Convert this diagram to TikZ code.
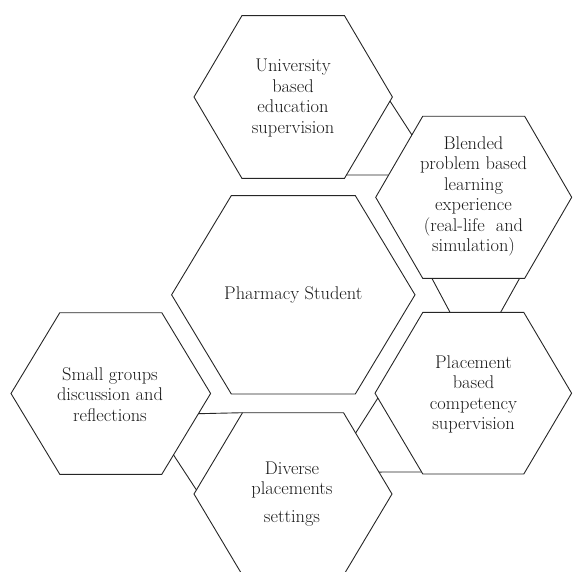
\documentclass[tikz,border=0pt]{standalone}
\usetikzlibrary{calc}
\tikzset{
  hexline/.style={draw=black!85, line width=0.9pt, line join=miter},
  conn/.style={draw=black!85, line width=0.9pt},
  hextext/.style={inner sep=0pt, align=center, font=\fontsize{18.4}{20.5}\selectfont, text=black!90},
}
\newcommand{\hexa}[6]{%
  \coordinate (#1-l) at ({#2-#4},#3);
  \coordinate (#1-tl) at ({#2-#5},{#3-#6});
  \coordinate (#1-tr) at ({#2+#5},{#3-#6});
  \coordinate (#1-r) at ({#2+#4},#3);
  \coordinate (#1-br) at ({#2+#5},{#3+#6});
  \coordinate (#1-bl) at ({#2-#5},{#3+#6});
  \draw[hexline] (#1-l) -- (#1-tl) -- (#1-tr) -- (#1-r) -- (#1-br) -- (#1-bl) -- cycle;
}
\begin{document}
\begin{tikzpicture}[x=1pt,y=-1pt]
\useasboundingbox (0,0) rectangle (572,572);
\hexa{u}{293.2}{97}{99.2}{51.3}{81.3}
\hexa{b}{473.7}{197.3}{98}{51}{81}
\hexa{p}{473.3}{393.2}{98.3}{50.5}{80.8}
\hexa{s}{110.8}{393.5}{99.8}{51}{80.8}
\hexa{d}{293}{494}{99}{50.5}{81.3}
\hexa{c}{293.3}{294.8}{121.7}{62}{99.2}

\node[hextext] (ut) at (293,98) {University\\based\\education\\supervision};
\node[hextext] (bt) at (473.5,196.5) {Blended\\problem based\\learning\\experience\\(real-life\ \ and\\simulation)};
\node[hextext] (pt) at (473.5,394.5) {Placement\\based\\competency\\supervision};
\node[hextext] (st) at (110,394.5) {Small groups\\discussion and\\reflections};
\node[hextext] (dt) at (292,494) {Diverse\\placements\\[7pt]settings};
\node[hextext] (ct) at (293.3,295) {Pharmacy Student};

\draw[conn] ($(u-r)!0.05!(u-br)$) -- ($(b-tl)!0.23!(b-l)$);
\draw[conn] ($(u-r)!0.959!(u-br)$) -- ($(b-tl)!0.725!(b-l)$);
\draw[conn] ($(b-bl)!0.09!(b-br)$) -- ($(p-tl)!0.27!(p-tr)$);
\draw[conn] ($(b-bl)!0.95!(b-br)$) -- ($(p-tl)!0.77!(p-tr)$);
\draw[conn] ($(p-l)!0.06!(p-bl)$) -- ($(d-tr)!0.25!(d-r)$);
\draw[conn] ($(p-l)!0.975!(p-bl)$) -- ($(d-tr)!0.73!(d-r)$);
\draw[conn] ($(s-r)!0.25!(s-br)$) -- (d-tl);
\draw[conn] ($(s-r)!0.76!(s-br)$) -- ($(d-l)!0.05!(d-tl)$);
\end{tikzpicture}
\end{document}
